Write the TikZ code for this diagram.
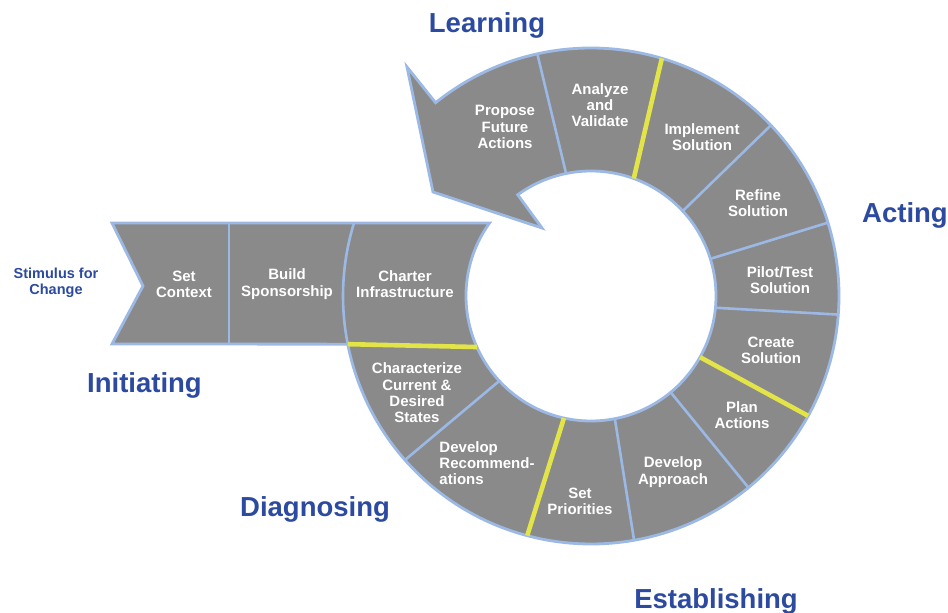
\documentclass[tikz,border=0pt]{standalone}
\usepackage{fontspec}
\setmainfont{Liberation Sans}
\definecolor{segfill}{RGB}{138,138,138}
\definecolor{segline}{RGB}{155,185,228}
\definecolor{hiline}{RGB}{226,228,72}
\definecolor{phase}{RGB}{44,74,160}
\begin{document}
\begin{tikzpicture}[x=1pt,y=1pt,
  seg/.style={font=\fontsize{15}{16.3}\selectfont\bfseries, text=white, align=center, inner sep=0pt},
  phaselbl/.style={font=\fontsize{27.5}{30}\selectfont\bfseries, text=phase, inner sep=0pt},
  stim/.style={font=\fontsize{14.5}{16}\selectfont\bfseries, text=phase, align=center, inner sep=0pt},
  divider/.style={draw=segline, line width=2.6pt},
  hidivider/.style={draw=hiline, line width=4.6pt}]
\useasboundingbox (0,0) rectangle (948,613);
\fill[white] (0,0) rectangle (948,613);
\begin{scope}[shift={(591,317)}]
  % whole gray shape: band + ring + arrow head
  \path[fill=segfill, draw=segline, line width=2.8pt, line join=miter, miter limit=6]
    (-479,73) -- (144.3:125pt)
    arc[start angle=144.3, end angle=485.9, radius=125pt]
    -- (-49,68) -- (-158,104) -- (-184,229) -- (128.8:248pt)
    arc[start angle=128.8, end angle=-168.8, radius=248pt]
    -- (-479,-48) -- (-448,10) -- cycle;
  % band dividers
  \draw[divider] (-362,73) -- (-362,-48);
  \draw[divider] (162.9:248pt) arc[start angle=162.9, end angle=191.2, radius=248pt];
  % ring dividers
  \foreach \a/\b in {101.5/102.5, 42.8/43.5, 17.3/17.2, -5.4/-4.3, -50.4/-50.6, -79/-80, -137.2/-138.6}
    \draw[divider] (\a:125pt) -- (\b:248pt);
  % highlighted (phase) dividers
  \draw[hidivider] (204.1:125pt) -- (191.2:248pt);
  \foreach \a/\b in {70/73.4, -29.3/-28.9, -102.5/-104.9}
    \draw[hidivider] (\a:125pt) -- (\b:248pt);
\end{scope}
% segment texts
\node[seg] (propose) at (505,486) {Propose\\Future\\Actions};
\node[seg] (analyze) at (600,508) {Analyze\\and\\Validate};
\node[seg] (implement) at (702,476) {Implement\\Solution};
\node[seg] (refine) at (758,410) {Refine\\Solution};
\node[seg] (pilot) at (780,333) {Pilot/Test\\Solution};
\node[seg] (create) at (771,263) {Create\\Solution};
\node[seg] (plan) at (742,198) {Plan\\Actions};
\node[seg] (approach) at (673,141) {Develop\\Approach};
\node[seg] (priorities) at (580,112) {Set\\Priorities};
\node[seg, align=left] (recommend) at (487,150) {Develop\\Recommend-\\ations};
\node[seg] (characterize) at (417,220) {Characterize\\Current \&\\Desired\\States};
\node[seg] (context) at (184,329) {Set\\Context};
\node[seg] (sponsor) at (287,329) {Build\\Sponsorship};
\node[seg] (charter) at (405,329) {Charter\\Infrastructure};
% outside labels
\node[stim] (stimulus) at (56,330) {Stimulus for\\Change};
\node[phaselbl, anchor=base] (learning) at (487,580) {Learning};
\node[phaselbl, anchor=base west] (acting) at (862,390) {Acting};
\node[phaselbl, anchor=base west] (initiating) at (87,220) {Initiating};
\node[phaselbl, anchor=base west] (diagnosing) at (240,96) {Diagnosing};
\node[phaselbl, anchor=base] (establishing) at (716,4) {Establishing};
\end{tikzpicture}
\end{document}
